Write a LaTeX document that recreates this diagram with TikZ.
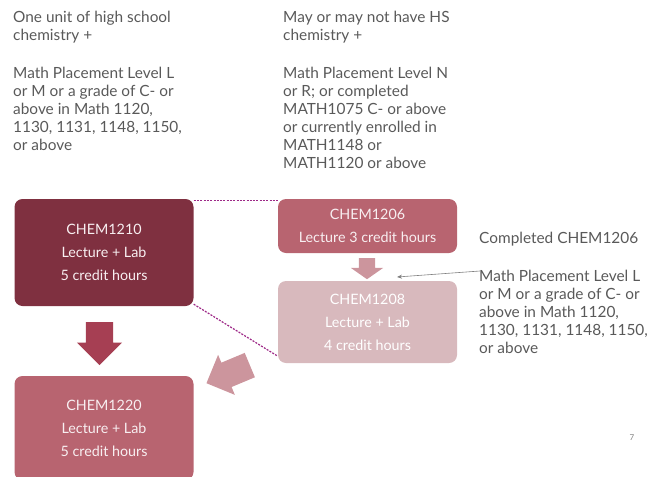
\documentclass[tikz,border=0pt]{standalone}
\usepackage{fontspec}
\setmainfont{Lato}
\usetikzlibrary{shapes.arrows,arrows.meta}
\definecolor{chemdark}{HTML}{7F3040}
\definecolor{chemmid}{HTML}{B86470}
\definecolor{chemlight}{HTML}{D8B9BD}
\definecolor{arrowdark}{HTML}{A63F53}
\definecolor{arrowlight}{HTML}{CC959D}
\definecolor{dotpurple}{HTML}{9E2A88}
\definecolor{textgray}{HTML}{595959}

\begin{document}
\begin{tikzpicture}[x=1pt,y=-1pt,
    course/.style={rounded corners=8pt,minimum width=179pt,inner sep=0pt,align=center,
        text=white!90!chemmid,font=\fontsize{14.3}{23}\selectfont},
    req/.style={anchor=north west,inner sep=0pt,align=left,text=textgray,
        font=\fontsize{15.4}{18}\selectfont},
    blockarrow/.style={single arrow,inner xsep=0pt,anchor=tail},
    dotline/.style={dash pattern=on 2pt off 1.3pt,line width=1.2pt,dotpurple}]
    \useasboundingbox (0,0) rectangle (654,477);
    % requirements
    \node[req] (req1210) at (13,11) {One unit of high school\\chemistry +\\[20pt]Math Placement Level L\\or M or a grade of C- or\\above in Math 1120,\\1130, 1131, 1148, 1150,\\or above};
    \node[req] (req1206) at (283,11) {May or may not have HS\\chemistry +\\[20pt]Math Placement Level N\\or R; or completed\\MATH1075 C- or above\\or currently enrolled in\\MATH1148 or\\MATH1120 or above};
    \node[req] (req1208) at (479,232) {Completed CHEM1206\\[20pt]Math Placement Level L\\or M or a grade of C- or\\above in Math 1120,\\1130, 1131, 1148, 1150,\\or above};
    % courses
    \node[course,fill=chemdark,minimum height=107pt] (c1210) at (104,252.5) {CHEM1210\\Lecture + Lab\\5 credit hours};
    \node[course,fill=chemmid,minimum height=54pt] (c1206) at (367.5,226) {CHEM1206\\Lecture 3 credit hours};
    \node[course,fill=chemlight,minimum height=82pt,text=white] (c1208) at (367.5,322) {CHEM1208\\Lecture + Lab\\4 credit hours};
    \node[course,fill=chemmid,minimum height=104pt] (c1220) at (104,428) {CHEM1220\\Lecture + Lab\\5 credit hours};
    % arrows
    \node[blockarrow,fill=arrowdark,inner ysep=13.5pt,minimum height=43pt,minimum width=45pt,
        single arrow head extend=9pt,rotate=-90] (down1210) at (99.5,322) {};
    \node[blockarrow,fill=arrowlight,inner ysep=8pt,minimum height=21pt,minimum width=32pt,
        single arrow head extend=8pt,single arrow tip angle=110,rotate=-90] (down1206) at (367,258) {};
    \node[blockarrow,fill=arrowlight,inner ysep=13pt,minimum height=47pt,minimum width=43pt,
        single arrow head extend=8.5pt,rotate=202.7] (diag1208) at (250,365) {};
    \draw[dotline] ([yshift=-2pt]c1210.north east) -- ([yshift=-2pt]c1206.north west);
    \draw[dotline] ([yshift=2pt]c1210.south east) -- ([yshift=7pt]c1208.south west);
    \coordinate (from1208) at (480,271);
    \coordinate (to1208) at (397,277);
    \draw[-{Stealth[length=5pt,width=4pt]},gray,line width=0.6pt] (from1208) -- (to1208);
    % page number
    \node[text=gray,font=\fontsize{8}{8}\selectfont] (page) at (632,438) {7};
\end{tikzpicture}
\end{document}
